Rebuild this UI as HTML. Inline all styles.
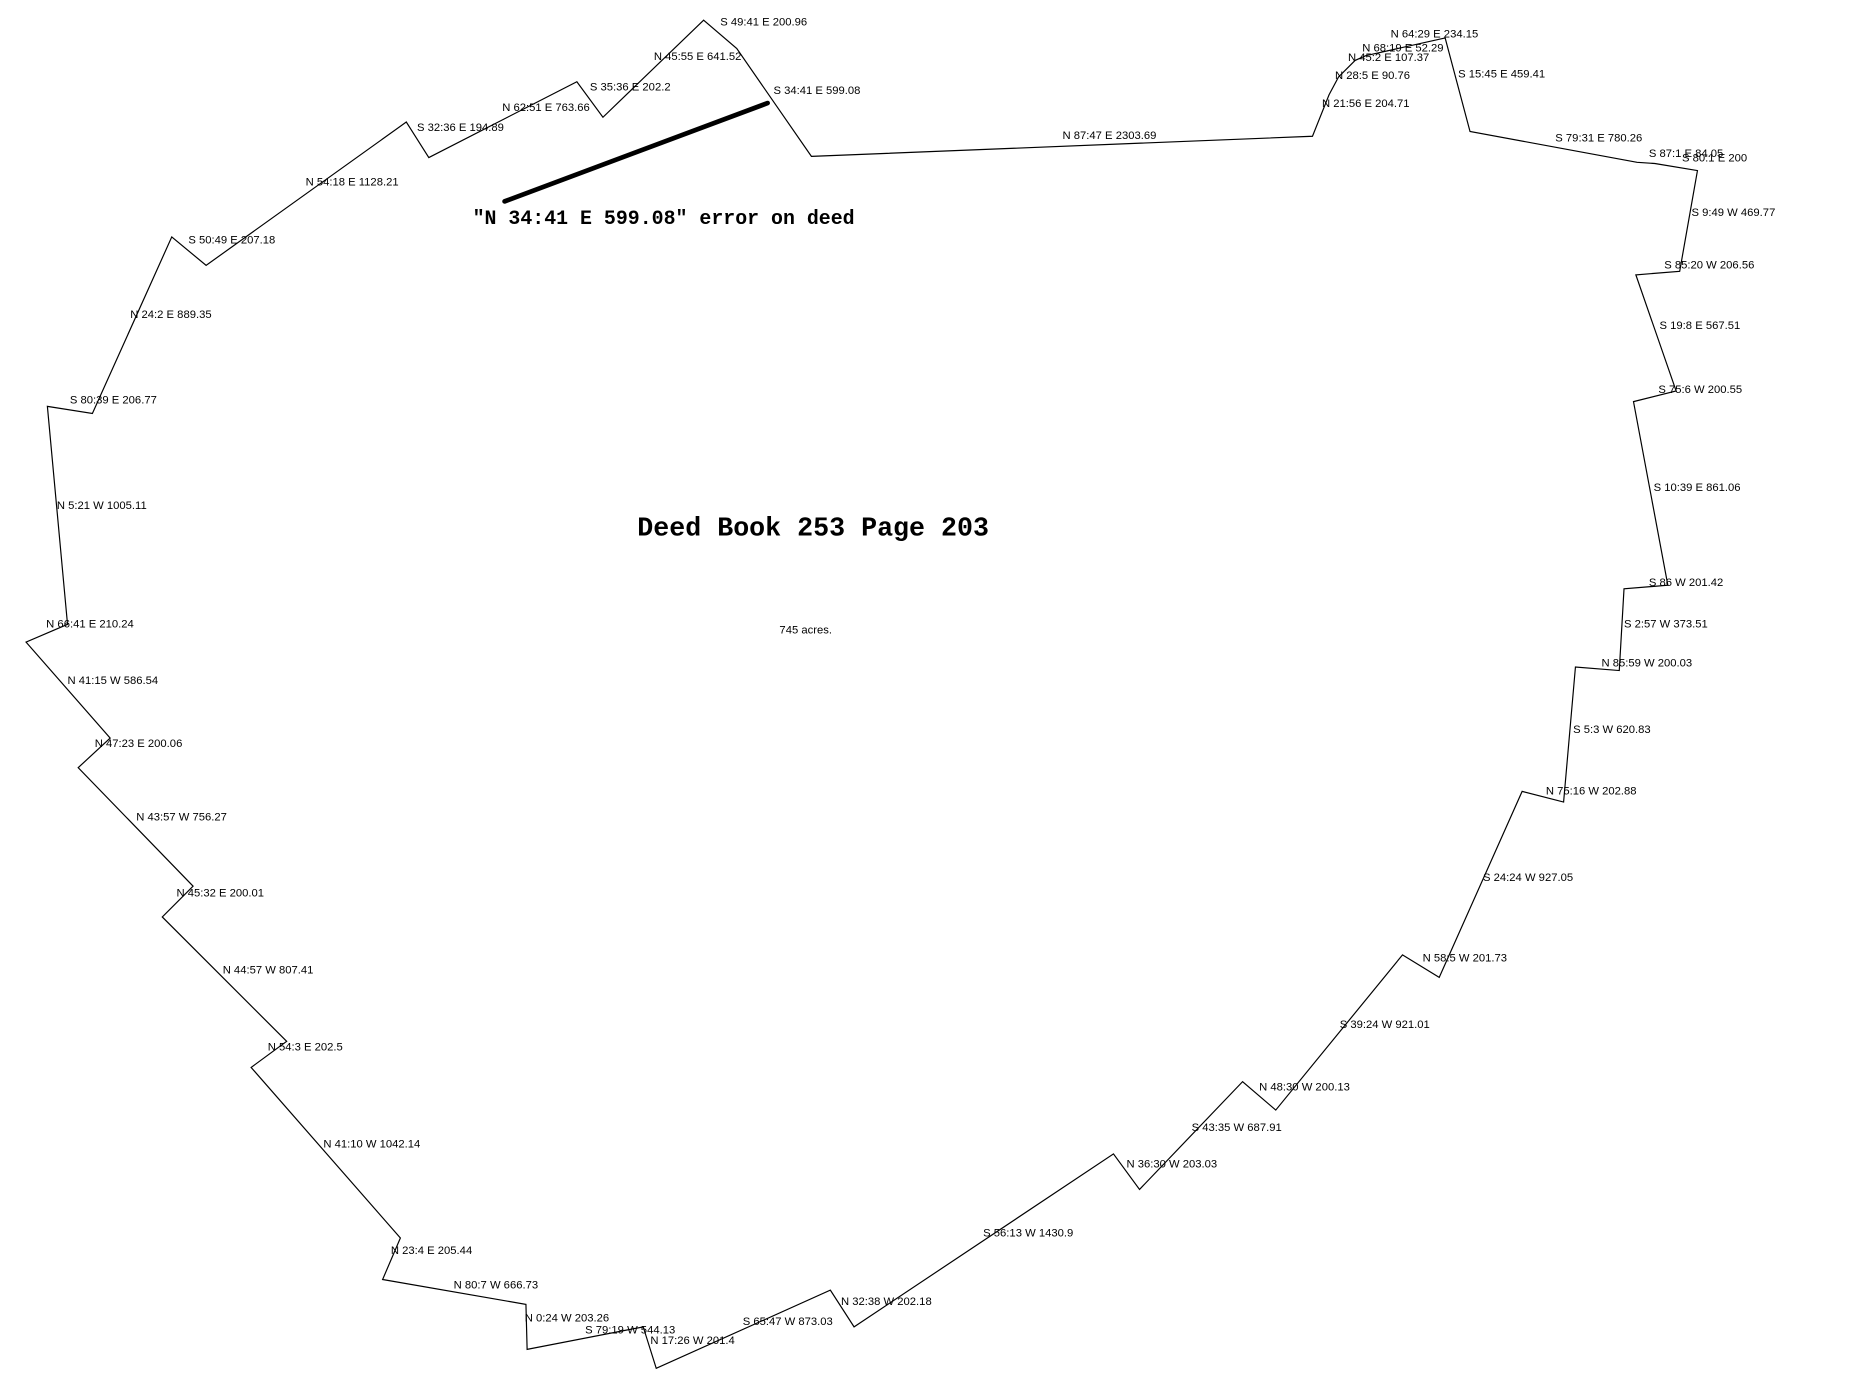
<!DOCTYPE html>
<html><head><meta charset="utf-8"><style>html,body{margin:0;padding:0;background:#fff;width:1855px;height:1379px;overflow:hidden}</style></head>
<body>
<svg width="1855" height="1379" viewBox="0 0 1566 1164" preserveAspectRatio="none" xmlns="http://www.w3.org/2000/svg">
<rect width="1566" height="1164" fill="#fff"/>
<polygon fill="none" stroke="#000" stroke-width="1" points="685,132 1108,115 1122,80 1130,65 1144,51 1153,47 1220,32 1241,111 1382,137 1397,138 1433,144 1418,229 1381,232 1415,330 1379,339 1408,494 1371,497 1367,566 1330,563 1320,677 1285,668 1215,825 1184,806 1077,937 1049,913 962,1004 940,974 721,1120 701,1089 554,1155 543,1120 445,1139 444,1101 323,1080 338,1045 212,901 242,879 137,774 163,748 66,648 93,623 22,542 57,527 40,343 78,349 145,200 174,224 343,103 362,133 487,69 509,99 594,17 622,41"/>
<line x1="426" y1="170" x2="648" y2="87" stroke="#000" stroke-width="4" stroke-linecap="round"/>
<g font-family="'Liberation Sans Narrow','Liberation Sans',sans-serif" font-size="9.5" fill="#000" dominant-baseline="central">
<text x="608" y="19">S 49:41 E 200.96</text>
<text x="552" y="48">N 45:55 E 641.52</text>
<text x="653" y="77">S 34:41 E 599.08</text>
<text x="498" y="74">S 35:36 E 202.2</text>
<text x="424" y="91">N 62:51 E 763.66</text>
<text x="352" y="108">S 32:36 E 194.89</text>
<text x="258" y="154">N 54:18 E 1128.21</text>
<text x="159" y="203">S 50:49 E 207.18</text>
<text x="110" y="266">N 24:2 E 889.35</text>
<text x="59" y="338">S 80:39 E 206.77</text>
<text x="48" y="427">N 5:21 W 1005.11</text>
<text x="39" y="527">N 66:41 E 210.24</text>
<text x="57" y="575">N 41:15 W 586.54</text>
<text x="80" y="628">N 47:23 E 200.06</text>
<text x="115" y="690">N 43:57 W 756.27</text>
<text x="149" y="754">N 45:32 E 200.01</text>
<text x="188" y="819">N 44:57 W 807.41</text>
<text x="226" y="884">N 54:3 E 202.5</text>
<text x="273" y="966">N 41:10 W 1042.14</text>
<text x="330" y="1056">N 23:4 E 205.44</text>
<text x="383" y="1085">N 80:7 W 666.73</text>
<text x="443" y="1113">N 0:24 W 203.26</text>
<text x="494" y="1123">S 79:19 W 544.13</text>
<text x="549" y="1132">N 17:26 W 201.4</text>
<text x="627" y="1116">S 65:47 W 873.03</text>
<text x="710" y="1099">N 32:38 W 202.18</text>
<text x="830" y="1041">S 56:13 W 1430.9</text>
<text x="951" y="983">N 36:30 W 203.03</text>
<text x="1006" y="952">S 43:35 W 687.91</text>
<text x="1063" y="918">N 48:30 W 200.13</text>
<text x="1131" y="865">S 39:24 W 921.01</text>
<text x="1201" y="809">N 58:5 W 201.73</text>
<text x="1252" y="741">S 24:24 W 927.05</text>
<text x="1305" y="668">N 75:16 W 202.88</text>
<text x="1328" y="616">S 5:3 W 620.83</text>
<text x="1352" y="560">N 85:59 W 200.03</text>
<text x="1371" y="527">S 2:57 W 373.51</text>
<text x="1392" y="492">S 86 W 201.42</text>
<text x="1396" y="412">S 10:39 E 861.06</text>
<text x="1400" y="329">S 75:6 W 200.55</text>
<text x="1401" y="275">S 19:8 E 567.51</text>
<text x="1405" y="224">S 85:20 W 206.56</text>
<text x="1428" y="180">S 9:49 W 469.77</text>
<text x="1392" y="130">S 87:1 E 84.05</text>
<text x="1420" y="134">S 80:1 E 200</text>
<text x="1313" y="117">S 79:31 E 780.26</text>
<text x="1231" y="63">S 15:45 E 459.41</text>
<text x="1174" y="29">N 64:29 E 234.15</text>
<text x="1150" y="41">N 68:19 E 52.29</text>
<text x="1138" y="49">N 45:2 E 107.37</text>
<text x="1127" y="64">N 28:5 E 90.76</text>
<text x="1116" y="88">N 21:56 E 204.71</text>
<text x="897" y="115">N 87:47 E 2303.69</text>
<text x="658" y="532">745 acres.</text>
</g>
<text x="538" y="452" font-family="'Liberation Mono',monospace" font-size="22.5" font-weight="bold" fill="#000">Deed Book 253 Page 203</text>
<text x="399" y="189" font-family="'Liberation Mono',monospace" font-size="16.8" font-weight="bold" fill="#000">"N 34:41 E 599.08" error on deed</text>
</svg>
</body></html>
